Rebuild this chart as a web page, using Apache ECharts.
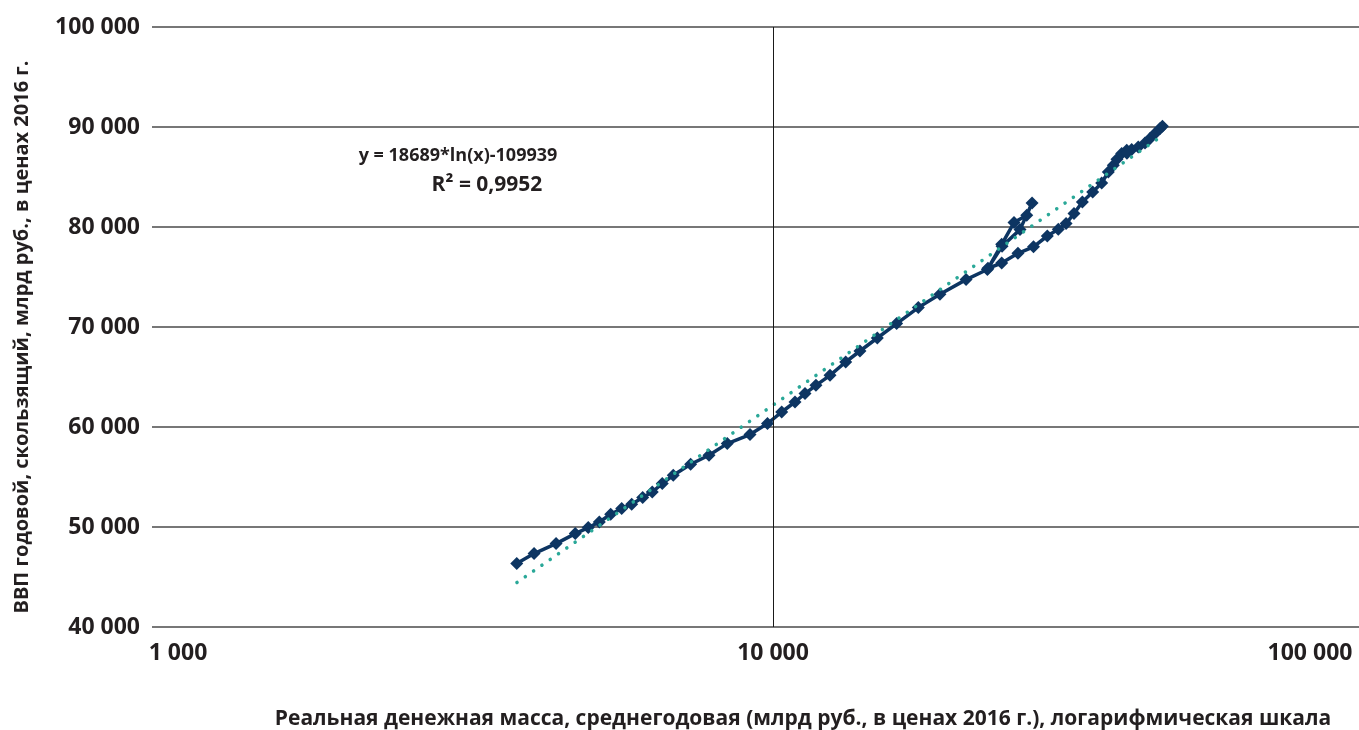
<!DOCTYPE html>
<html>
<head>
<meta charset="utf-8">
<script src="https://cdn.jsdelivr.net/npm/echarts@6/dist/echarts.min.js"></script>
<style>
html,body{margin:0;padding:0;background:#fff;}
#chart{width:1359px;height:730px;}
</style>
</head>
<body>
<div id="chart"></div>
<script>
// Real money supply (bn RUB, 2016 prices), log scale
const moneyX = [3867, 4123, 4474, 4804, 5041, 5252, 5478, 5706, 5922, 6168,
  6391, 6632, 6909, 7368, 7887, 8440, 9183, 9797, 10328, 10850,
  11260, 11727, 12353, 13093, 13805, 14723, 15816, 17140, 18570, 20460,
  22140, 23350, 24440, 25620, 26130, 24990, 23380, 22190, 23350, 24800,
  26270, 27650, 28800, 29640, 30530, 31490, 32720, 33830, 34670, 35320,
  35800, 36430, 37120, 37810, 37150, 38740, 39720, 40470, 41220, 42000, 42380];
// GDP annual rolling (bn RUB, 2016 prices)
const gdpY = [46340, 47340, 48340, 49340, 49940, 50500, 51270, 51840, 52270, 52940,
  53500, 54340, 55170, 56270, 57170, 58340, 59240, 60340, 61500, 62500,
  63340, 64170, 65170, 66500, 67600, 68900, 70340, 71940, 73270, 74740,
  75750, 78270, 80440, 81170, 82400, 79740, 78070, 75870, 76400, 77370,
  78020, 79100, 79770, 80340, 81340, 82500, 83500, 84400, 85500, 86170,
  86770, 87340, 87670, 87740, 87370, 88000, 88400, 88840, 89340, 89840, 90070];
// Logarithmic trend line endpoints
const trendX = [3870, 42400];
const trendY = [44450, 89150];
const xGridValues = [10000];
const equationText = 'y = 18689*ln(x)-109939';
const r2Text = 'R² = 0,9952';
const xTitle = 'Реальная денежная масса, среднегодовая (млрд руб., в ценах 2016 г.), логарифмическая шкала';
const yTitle = 'ВВП годовой, скользящий, млрд руб., в ценах 2016 г.';

const FONT = '"Open Sans", sans-serif';
const TXT = '#231f20';
const fmt = v => String(Math.round(v)).replace(/\B(?=(\d{3})+(?!\d))/g, ' ');

const mainData = moneyX.map((x, i) => [x, gdpY[i]]);
const trendData = trendX.map((x, i) => [x, trendY[i]]);

const chart = echarts.init(document.getElementById('chart'), null, {renderer: 'canvas'});
chart.setOption({
  animation: false,
  backgroundColor: '#ffffff',
  grid: {left: 152, width: 1242, top: 27, height: 600, containLabel: false, outerBoundsMode: 'none'},
  xAxis: {
    type: 'log', logBase: 10, min: 1000, max: 100000,
    axisLine: {show: false},
    axisTick: {show: false},
    splitLine: {show: false},
    axisLabel: {
      margin: 15, color: TXT, fontFamily: FONT, fontWeight: 700, fontSize: 23,
      showMinLabel: true, showMaxLabel: true, hideOverlap: false,
      formatter: function (v) {
        if (v <= 1000) return '{a|' + fmt(v) + '}';
        if (v >= 100000) return '{c|' + fmt(v) + '}';
        return fmt(v);
      },
      rich: {
        a: {fontFamily: FONT, fontWeight: 700, fontSize: 23, color: TXT, padding: [0, 0, 0, 52]},
        c: {fontFamily: FONT, fontWeight: 700, fontSize: 23, color: TXT, padding: [0, 168, 0, 0]}
      }
    },
    name: xTitle,
    nameLocation: 'middle',
    nameGap: 82,
    nameTextStyle: {fontFamily: FONT, fontWeight: 700, fontSize: 21, color: TXT, padding: [0, 0, 0, 60]}
  },
  yAxis: {
    type: 'value', min: 40000, max: 100000, interval: 10000,
    axisLine: {show: false},
    axisTick: {show: false},
    splitLine: {show: true, lineStyle: {color: '#4a4a4a', width: 1.5}},
    axisLabel: {margin: 12, color: TXT, fontFamily: FONT, fontWeight: 700, fontSize: 23, formatter: fmt},
    name: yTitle,
    nameLocation: 'middle',
    nameRotate: 90,
    nameGap: 120,
    nameTextStyle: {fontFamily: FONT, fontWeight: 700, fontSize: 20, color: TXT, padding: [0, 20, 0, 0]}
  },
  graphic: [
    {type: 'text', x: 458, y: 156, style: {text: equationText, align: 'center', verticalAlign: 'middle', fontFamily: FONT, fontWeight: 700, fontSize: 18, fill: TXT}},
    {type: 'text', x: 487, y: 185, style: {text: r2Text, align: 'center', verticalAlign: 'middle', fontFamily: FONT, fontWeight: 700, fontSize: 21, fill: TXT}}
  ],
  series: [
    {
      type: 'line', data: mainData, symbol: 'diamond', symbolSize: 13, showAllSymbol: true,
      itemStyle: {color: '#0d3562'}, lineStyle: {color: '#0d3562', width: 3.5}, z: 2,
      markLine: {
        silent: true, symbol: 'none', label: {show: false},
        lineStyle: {color: '#1a1a1a', width: 1, type: 'solid'},
        data: xGridValues.map(v => ({xAxis: v}))
      }
    },
    {
      type: 'line', data: trendData, symbol: 'none',
      lineStyle: {color: '#2aa898', width: 3.5, type: [0.1, 10], cap: 'round'}, z: 3
    }
  ]
});
</script>
</body>
</html>
